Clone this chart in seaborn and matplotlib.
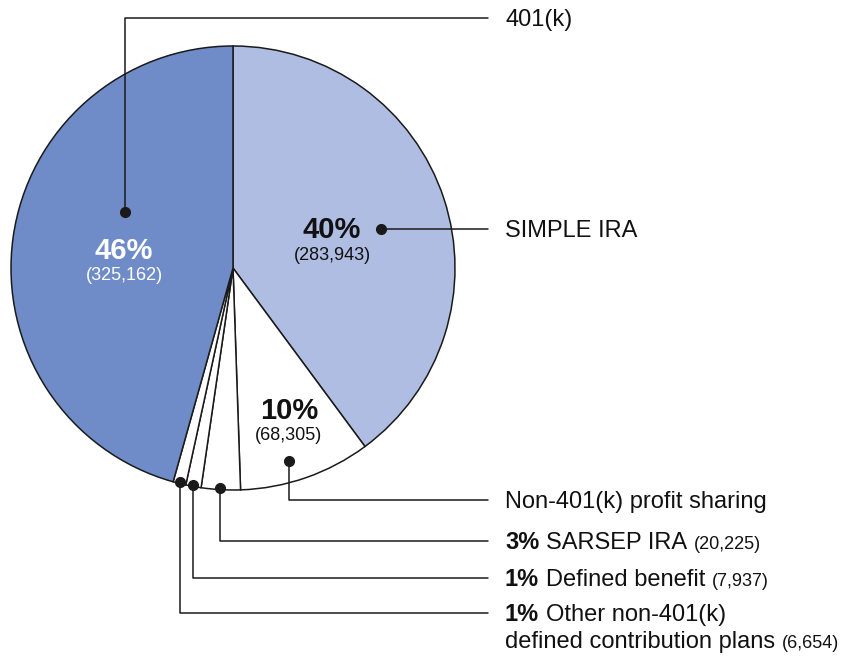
import matplotlib
matplotlib.use("Agg")
import matplotlib.pyplot as plt
import seaborn as sns

# ---------------- data ----------------
categories = ["SIMPLE IRA", "Non-401(k) profit sharing", "SARSEP IRA",
              "Defined benefit", "Other non-401(k)", "401(k)"]
counts = [283943, 68305, 20225, 7937, 6654, 325162]
percent_labels = ["40%", "10%", "3%", "1%", "1%", "46%"]
count_labels = ["(283,943)", "(68,305)", "(20,225)", "(7,937)", "(6,654)", "(325,162)"]
slice_colors = ["#b0bde3", "#ffffff", "#ffffff", "#ffffff", "#ffffff", "#6f8cc8"]

# ---------------- style ----------------
sns.set_theme(style="white")
plt.rcParams["font.family"] = ["Liberation Sans", "DejaVu Sans"]

W, H = 852, 658
fig = plt.figure(figsize=(W / 100, H / 100), dpi=100)
ax = fig.add_axes([0, 0, 1, 1])

def Y(y):
    return H - y

cx, cy, R = 233, 268, 222
ax.pie(counts, colors=slice_colors, startangle=90, counterclock=False,
       center=(cx, Y(cy)), radius=R,
       wedgeprops=dict(edgecolor="#1a1a1a", linewidth=1.1))
ax.set_xlim(0, W)
ax.set_ylim(0, H)
ax.set_aspect("equal")
ax.axis("off")

PX = 100 / 72.0
fig.canvas.draw()
renderer = fig.canvas.get_renderer()

def draw_parts(x, y, parts):
    """parts: list of (text, weight, size, color). y is pixel from top (baseline)."""
    cur = x
    for s, wt, sz, col in parts:
        t = ax.text(cur, Y(y), s, fontsize=sz, fontweight=wt, color=col,
                    ha="left", va="baseline")
        bb = t.get_window_extent(renderer=renderer)
        cur = cur + bb.width + 0.28 * 17 * PX

# in-slice labels
def center_label(x, y, pct, cnt, col):
    ax.text(x, Y(y), pct, fontsize=21, fontweight="bold", color=col,
            ha="center", va="center")
    ax.text(x, Y(y + 25), cnt, fontsize=13, color=col, ha="center", va="center")

center_label(124, 251, percent_labels[5], count_labels[5], "white")
center_label(332, 230, percent_labels[0], count_labels[0], "#111111")
center_label(289, 411, percent_labels[1], count_labels[1], "#111111")

# leader lines with dots
LINE_END = 488
lc = "#1a1a1a"
def leader(dot, y_text, vertical=True):
    dx, dy = dot
    if vertical:
        ax.plot([dx, dx, LINE_END], [Y(dy), Y(y_text), Y(y_text)], color=lc, lw=1.1)
    else:
        ax.plot([dx, LINE_END], [Y(dy), Y(dy)], color=lc, lw=1.1)
    ax.plot([dx], [Y(dy)], "o", color="#1a1a1a", markersize=7)

leader((125, 212), 18)
leader((381, 229), 229, vertical=False)
leader((289, 461), 500)
leader((220, 488), 541)
leader((193, 485), 578)
leader((180, 482), 613)

TX = 505
BIG = 17
SMALL = 13
base_off = 8  # center -> baseline offset in px
ink = "#111111"
draw_parts(TX, 18 + base_off, [(categories[5], "normal", BIG, ink)])
draw_parts(TX, 229 + base_off, [(categories[0], "normal", BIG, ink)])
draw_parts(TX, 500 + base_off, [(categories[1], "normal", BIG, ink)])
draw_parts(TX, 541 + base_off, [(percent_labels[2], "bold", BIG, ink),
                                (categories[2], "normal", BIG, ink),
                                (count_labels[2], "normal", SMALL, ink)])
draw_parts(TX, 578 + base_off, [(percent_labels[3], "bold", BIG, ink),
                                (categories[3], "normal", BIG, ink),
                                (count_labels[3], "normal", SMALL, ink)])
draw_parts(TX, 613 + base_off, [(percent_labels[4], "bold", BIG, ink),
                                (categories[4], "normal", BIG, ink)])
draw_parts(TX, 640 + base_off, [("defined contribution plans", "normal", BIG, ink),
                                (count_labels[4], "normal", SMALL, ink)])

fig.savefig("out.png", dpi=100)
